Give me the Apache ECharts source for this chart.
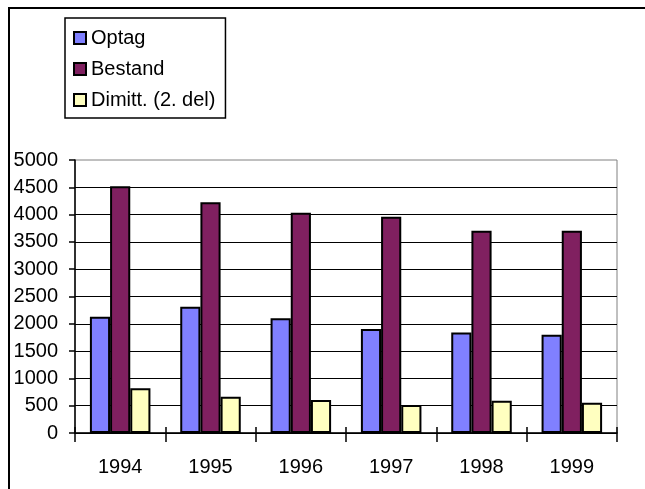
<!DOCTYPE html>
<html>
<head>
<meta charset="utf-8">
<script src="https://cdn.jsdelivr.net/npm/echarts@6/dist/echarts.min.js"></script>
<style>
  html, body { margin: 0; padding: 0; background: #fff; }
  #chart { width: 645px; height: 489px; }
</style>
</head>
<body>
<div id="chart"></div>
<script>
const years = ["1994", "1995", "1996", "1997", "1998", "1999"];
const optag = [2130, 2310, 2100, 1905, 1840, 1800];
const bestand = [4520, 4225, 4035, 3960, 3705, 3705];
const dimitt = [820, 665, 605, 515, 590, 555];

var myChart = echarts.init(document.getElementById("chart"));

const font = "'Liberation Sans', Arial, sans-serif";
const barBorder = { borderColor: "#000", borderWidth: 2 };

myChart.setOption({
  animation: false,
  textStyle: { fontFamily: font },
  graphic: [
    {
      type: "rect",
      shape: { x: 9, y: 8, width: 700, height: 600 },
      style: { fill: "none", stroke: "#000", lineWidth: 2 },
      z: 100,
    },
  ],
  legend: {
    orient: "vertical",
    left: 65,
    top: 18,
    padding: [10, 10, 8, 8],
    itemGap: 11,
    itemWidth: 12,
    itemHeight: 12,
    icon: "rect",
    borderColor: "#000",
    borderWidth: 1.5,
    textStyle: { fontSize: 20, color: "#000", lineHeight: 20 },
    data: ["Optag", "Bestand", "Dimitt. (2. del)"],
  },
  grid: {
    left: 75,
    right: 28,
    top: 160,
    bottom: 56,
    show: true,
    borderColor: "#808080",
    borderWidth: 1,
  },
  xAxis: [
    {
      type: "category",
      data: years,
      axisLine: { lineStyle: { color: "#000", width: 1.5 } },
      axisTick: { show: true, length: 9, lineStyle: { color: "#000", width: 1.5 } },
      axisLabel: { fontSize: 20, color: "#000", margin: 24 },
    },
    {
      type: "category",
      data: years,
      position: "bottom",
      axisLine: { show: false },
      axisTick: { show: true, inside: true, length: 6, lineStyle: { color: "#000", width: 1.5 } },
      axisLabel: { show: false },
    },
  ],
  yAxis: {
    type: "value",
    min: 0,
    max: 5000,
    interval: 500,
    axisLine: { show: true, lineStyle: { color: "#000", width: 1.5 } },
    axisTick: { show: true, length: 6, lineStyle: { color: "#000", width: 1.5 } },
    axisLabel: { fontSize: 20, color: "#000", margin: 17, formatter: (v) => String(v) },
    splitLine: { show: true, showMaxLine: false, lineStyle: { color: "#000", width: 1.2 } },
  },
  series: [
    {
      name: "Optag",
      type: "bar",
      data: optag,
      barGap: "0%",
      barCategoryGap: "33%",
      itemStyle: Object.assign({ color: "#8080FF" }, barBorder),
    },
    {
      name: "Bestand",
      type: "bar",
      data: bestand,
      itemStyle: Object.assign({ color: "#802060" }, barBorder),
    },
    {
      name: "Dimitt. (2. del)",
      type: "bar",
      data: dimitt,
      itemStyle: Object.assign({ color: "#FFFFC0" }, barBorder),
    },
  ],
});

window.addEventListener("resize", () => {
  myChart.resize();
});
</script>
</body>
</html>
